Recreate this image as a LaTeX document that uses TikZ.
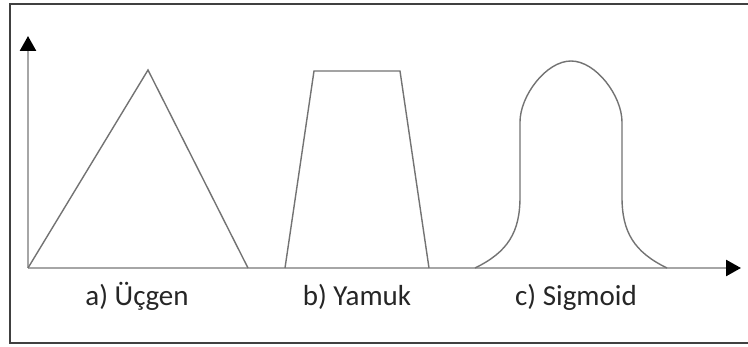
\documentclass[tikz,border=0pt]{standalone}
\usepackage{fontspec}
\setmainfont{Carlito}
\usetikzlibrary{arrows.meta}
\tikzset{
    axis/.style={line width=2.6pt, draw=black!35, -{Triangle[length=15pt,width=16pt,color=black]}},
    curve/.style={line width=1.4pt, draw=black!55, line join=miter},
    label/.style={anchor=base, font=\fontsize{29}{34}\selectfont, text=black!85}
}

\begin{document}
\begin{tikzpicture}[x=1pt,y=-1pt]
    \useasboundingbox (0,0) rectangle (748,347);
    \fill[white] (0,0) rectangle (748,347);
    \draw[line width=1.6pt, black!75] (749,4) -- (10,4) -- (10,343) -- (749,343);
    \coordinate (O) at (28,268);
    \coordinate (Y) at (28,36);
    \coordinate (X) at (741,268);
    \draw[axis] (O) -- (X);
    \draw[axis] (O) -- (Y);
    \draw[curve] (O) -- (148,70) -- (248,268);
    \draw[curve] (285,268) -- (314,71) -- (400,71) -- (429,268);
    \draw[curve] (475,268) .. controls (508,252) and (520,232) .. (520,197)
        -- (520,122) .. controls (520,96) and (546,61) .. (571,61)
        .. controls (596,61) and (622,96) .. (622,122)
        -- (622,197) .. controls (622,232) and (634,252) .. (667,268);
    \node[label] (A) at (137,306) {a) Üçgen};
    \node[label] (B) at (357,306) {b) Yamuk};
    \node[label] (C) at (576,306) {c) Sigmoid};
\end{tikzpicture}
\end{document}
